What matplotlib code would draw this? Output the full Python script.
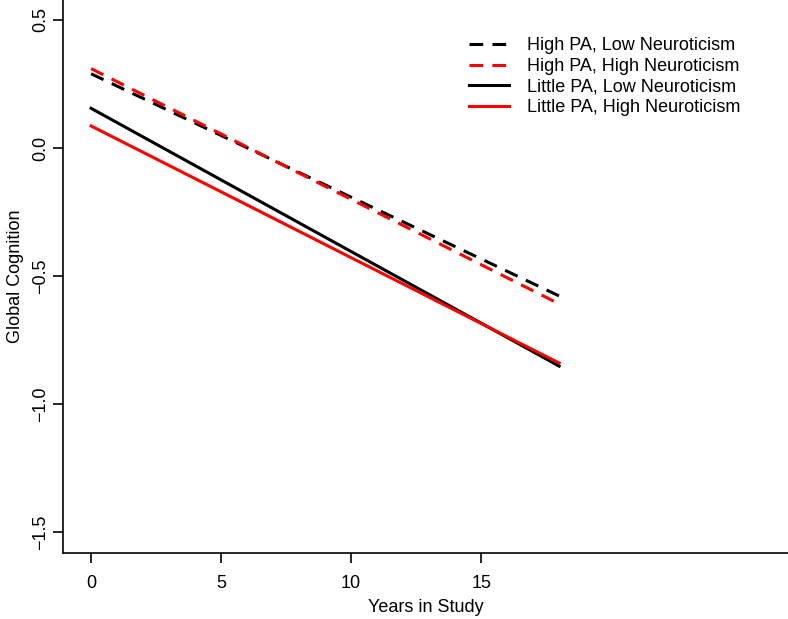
import matplotlib
matplotlib.use("Agg")
import matplotlib.pyplot as plt

plt.rcParams['font.family'] = ['Liberation Sans', 'DejaVu Sans']

years = [0, 18]
high_pa_low_n = [0.29, -0.578]
high_pa_high_n = [0.31, -0.609]
little_pa_low_n = [0.155, -0.852]
little_pa_high_n = [0.086, -0.84]
labels = ["High PA, Low Neuroticism", "High PA, High Neuroticism",
          "Little PA, Low Neuroticism", "Little PA, High Neuroticism"]
xticks = [0, 5, 10, 15]
yticks = [-1.5, -1.0, -0.5, 0.0, 0.5]

fig = plt.figure(figsize=(7.88, 6.19), dpi=100)
ax = fig.add_axes([63/788, 66/619, 1 - 63/788, 1 - 66/619])
lw = 2.2
ax.plot(years, high_pa_low_n, color='black', lw=lw, dashes=(4.5, 3), label=labels[0])
ax.plot(years, high_pa_high_n, color='#ff0000', lw=lw, dashes=(4.5, 3), label=labels[1])
ax.plot(years, little_pa_low_n, color='black', lw=lw, label=labels[2])
ax.plot(years, little_pa_high_n, color='#ff0000', lw=lw, label=labels[3])

ax.set_xlim(-1.08, 26.8)
ax.set_ylim(-1.582, 0.578)
ax.set_xticks(xticks)
ax.set_xticklabels([str(t) for t in xticks])
ax.set_yticks(yticks)
ax.set_yticklabels(["\u22121.5", "\u22121.0", "\u22120.5", "0.0", "0.5"], rotation=90, va='center')
for s in ['top', 'right']:
    ax.spines[s].set_visible(False)
for s in ['left', 'bottom']:
    ax.spines[s].set_linewidth(1.2)
fs = 13
ax.tick_params(axis='both', length=7, width=1.2, labelsize=fs)
ax.tick_params(axis='x', pad=9)
ax.tick_params(axis='y', pad=3)
ax.set_xlabel("Years in Study", fontsize=fs, labelpad=5)
ax.set_ylabel("Global Cognition", fontsize=fs, labelpad=6)

leg = ax.legend(loc='upper left', bbox_to_anchor=(0.538, 0.962), frameon=False,
                fontsize=fs, handlelength=2.2, handletextpad=1.0, labelspacing=0.2)

fig.savefig("out.png", dpi=100)
